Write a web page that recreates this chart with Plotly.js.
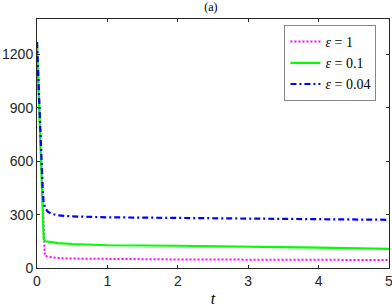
<!DOCTYPE html>
<html><head><meta charset="utf-8">
<script src="https://cdn.plot.ly/plotly-3.0.1.min.js"></script>
<style>html,body{margin:0;padding:0;background:#fff}#c{width:392px;height:307px}</style>
</head><body><div id="c"></div>
<script>
const t1 = [0, 0.02, 0.04, 0.06, 0.08, 0.095, 0.11, 0.15, 0.2, 0.3, 0.5, 1, 2, 3, 4, 5];
const eps1 = [1255, 1040, 830, 620, 400, 150, 70, 64, 60, 56, 53, 50, 48, 47, 46, 45];
const t2 = [0, 0.02, 0.04, 0.06, 0.08, 0.095, 0.12, 0.2, 0.3, 0.5, 1, 2, 3, 4, 5];
const eps01 = [1260, 1045, 840, 630, 420, 165, 150, 144, 140, 135, 128, 125, 121, 114, 108];
const t3 = [0, 0.02, 0.04, 0.06, 0.08, 0.095, 0.12, 0.15, 0.2, 0.3, 0.5, 1, 2, 3, 4, 5];
const eps004 = [1270, 1050, 850, 640, 450, 365, 335, 318, 305, 296, 290, 285, 281, 278, 275, 271];
const names = ["<i>ε</i> = 1", "<i>ε</i> = 0.1", "<i>ε</i> = 0.04"];
const xTicks = [0, 1, 2, 3, 4, 5];
const yTicks = [0, 300, 600, 900, 1200];

const axCol = '#262626';
const data = [
  {x: t1, y: eps1, name: names[0], mode: 'lines', line: {color: '#ff00ff', width: 2, dash: '2px,2px'}},
  {x: t2, y: eps01, name: names[1], mode: 'lines', line: {color: '#00ff00', width: 2.2}},
  {x: t3, y: eps004, name: names[2], mode: 'lines', line: {color: '#0000ff', width: 2.2, dash: '6px,3px,2px,3px'}}
];
const layout = {
  width: 392, height: 307,
  margin: {l: 37, r: 3, t: 19, b: 39},
  paper_bgcolor: '#fff', plot_bgcolor: '#fff',
  showlegend: true,
  title: {text: '(a)', font: {family: 'Liberation Serif', size: 12, color: '#000'}, x: 0.538, xanchor: 'center', y: 0.99, yanchor: 'top'},
  xaxis: {
    range: [0, 5], tickvals: xTicks, ticktext: xTicks.map(String),
    showgrid: false, zeroline: false, showline: true, linecolor: axCol, linewidth: 1, mirror: 'ticks',
    ticks: 'inside', ticklen: 3, tickcolor: axCol, ticklabeloverflow: 'allow',
    tickfont: {family: 'Liberation Sans', size: 14, color: axCol},
    title: {text: '<i>t</i>', font: {family: 'Liberation Serif', size: 16, color: '#000'}, standoff: 6}
  },
  yaxis: {
    range: [0, 1400], tickvals: yTicks, ticktext: yTicks.map(String),
    showgrid: false, zeroline: false, showline: true, linecolor: axCol, linewidth: 1, mirror: 'ticks',
    ticks: 'inside', ticklen: 3, tickcolor: axCol, ticklabeloverflow: 'allow',
    tickfont: {family: 'Liberation Sans', size: 14, color: axCol}
  },
  legend: {
    x: 0.703, y: 0.976, xanchor: 'left', yanchor: 'top',
    bgcolor: '#fff', bordercolor: '#888', borderwidth: 1,
    font: {family: 'Liberation Serif', size: 14, color: '#000'},
    tracegroupgap: 0, itemwidth: 30
  }
};
Plotly.newPlot('c', data, layout, {displayModeBar: false, staticPlot: true});
</script></body></html>
